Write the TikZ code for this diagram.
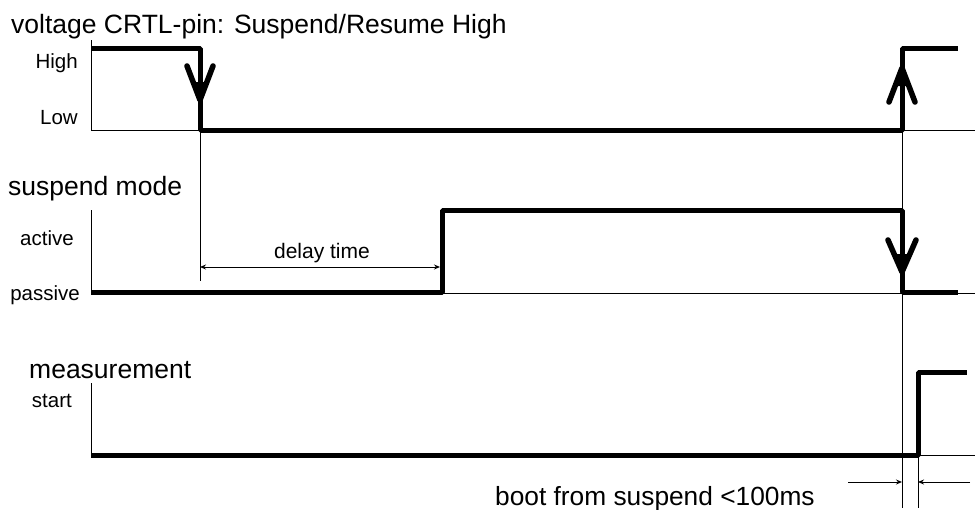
\documentclass[tikz,border=0pt]{standalone}
\usepackage{fontspec}
\setmainfont{Liberation Sans}
\usetikzlibrary{arrows.meta}
\begin{document}
\begin{tikzpicture}[x=1pt,y=-1pt,
  thin line/.style={line width=1pt},
  sig/.style={line width=5pt, line join=bevel},
  head/.style={line width=5.5pt, line cap=round, line join=round},
  dim/.style={line width=1pt, -{Stealth[length=6pt,width=5pt]}},
  big/.style={font=\fontsize{26.5}{30}\selectfont, anchor=base west, inner sep=0pt},
  small/.style={font=\fontsize{20.5}{24}\selectfont, anchor=base east, inner sep=0pt}]
\useasboundingbox (0,0) rectangle (975,509);
% ---------- titles
\node[big] (t1) at (11,33) {voltage CRTL-pin: Suspend/Resume High};
\node[big] (t2) at (8,195) {suspend mode};
\node[big] (t3) at (29,378) {measurement};
% ---------- level labels
\node[small] (lh) at (78,68) {High};
\node[small] (ll) at (78,124) {Low};
\node[small] (la) at (74,245) {active};
\node[small] (lp) at (80,300) {passive};
\node[small] (ls) at (72,407) {start};
% ---------- coordinates
\coordinate (a1t) at (91,40);   \coordinate (a1b) at (91,130);
\coordinate (a2t) at (91,210);  \coordinate (a2b) at (91,293);
\coordinate (a3t) at (91,383);  \coordinate (a3b) at (91,455);
\coordinate (f1) at (200,130);  \coordinate (f1b) at (200,281);
\coordinate (r1) at (902,130);  \coordinate (r1b) at (902,508);
\coordinate (m1) at (918,455);  \coordinate (m1b) at (918,508);
% ---------- thin axes and baselines
\draw[thin line] (a1t) -- (a1b) -- (975,130);
\draw[thin line] (a2t) -- (a2b) -- (975,293);
\draw[thin line] (a3t) -- (a3b) -- (975,455);
\draw[thin line] (f1) -- (f1b);
\draw[thin line] (r1) -- (r1b);
\draw[thin line] (m1) -- (m1b);
% ---------- signal 1
\draw[sig] (91,48) -- (200,48) -- (200,130) -- (902,130) -- (902,48) -- (958,48);
\draw[head] (187,66) -- (200,100) -- (213,66);
\fill (200,102) -- (194,82) -- (206,82) -- cycle;
\draw[head] (889,102) -- (902,68) -- (915,102);
\fill (902,66) -- (896,86) -- (908,86) -- cycle;
% ---------- signal 2
\draw[sig] (91,292) -- (442,292) -- (442,210) -- (902,210) -- (902,292) -- (958,292);
\draw[head] (888,240) -- (902,272) -- (916,240);
\fill (902,274) -- (896,254) -- (908,254) -- cycle;
% ---------- signal 3
\draw[sig] (91,455) -- (918,455) -- (918,372) -- (967,372);
% ---------- delay time
\coordinate (d1) at (200,267);
\coordinate (d2) at (440,267);
\draw[thin line, {Stealth[length=6pt,width=5pt]}-{Stealth[length=6pt,width=5pt]}] (d1) -- (d2);
\node[font=\fontsize{21}{24}\selectfont, anchor=base, inner sep=0pt] (dt) at (322,258) {delay time};
% ---------- boot
\coordinate (b1) at (848,482); \coordinate (b1e) at (902,482);
\coordinate (b2) at (970,482); \coordinate (b2e) at (918,482);
\draw[dim] (b1) -- (b1e);
\draw[dim] (b2) -- (b2e);
\node[font=\fontsize{26.3}{30}\selectfont, anchor=base west, inner sep=0pt] (bt) at (495,505) {boot from suspend <100ms};
\end{tikzpicture}
\end{document}
